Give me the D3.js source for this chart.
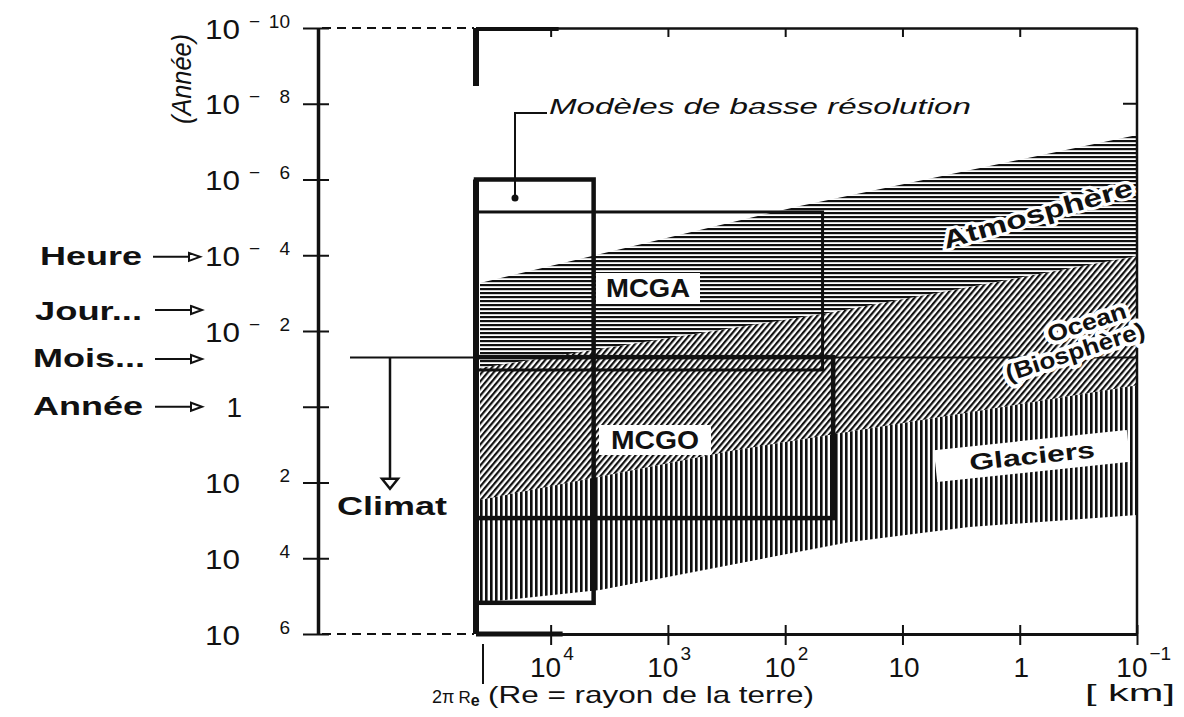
<!DOCTYPE html>
<html>
<head>
<meta charset="utf-8">
<script src="https://cdn.jsdelivr.net/npm/d3@7/dist/d3.min.js"></script>
<style>
  body { margin: 0; background: #fff; }
  text { font-family: "Liberation Sans", Arial, sans-serif; fill: #111; }
</style>
</head>
<body>
<svg id="chart" width="1184" height="717"></svg>
<script>
// values (x in km, y in years)
var earthCircum = 2 * Math.PI * 6371;
var yTickExps = [-10, -8, -6, -4, -2, 0, 2, 4, 6];
var xTickExps = [4, 3, 2, 1, 0, -1];

var timeNames = ["Heure", "Jour...", "Mois...", "Année"];
var timeValues = [1.1e-4, 2.8e-3, 0.055, 1];

var boxNames = ["basse", "MCGA", "MCGO"];
var boxKmTo = [4300, 48, 39];
var boxYrFrom = [1e-6, 7.2e-6, 0.049];
var boxYrTo = [1.5e5, 0.107, 870];

var climatYears = 0.05;
var climatArrowYears = 80;

// boundaries of the hatched bands
var atmTopKm = [earthCircum, 75, 0.1];
var atmTopYr = [5.4e-4, 5.0e-6, 6.7e-8];
var oceTopKm = [earthCircum, 42, 0.1];
var oceTopYr = [0.095, 3.3e-3, 1.05e-4];
var glaTopKm = [earthCircum, 270, 0.1];
var glaTopYr = [290, 14, 0.27];
var glaBotKm = [earthCircum, 3800, 28, 2.7, 0.1];
var glaBotYr = [1.5e5, 6.9e4, 3700, 1500, 720];

var svg = d3.select("#chart");
var pLeft = 480, pRight = 1137, pTop = 28, pBottom = 634, axisX = 318;

var x = d3.scaleLog().domain([earthCircum, 0.1]).range([pLeft, pRight]);
var y = d3.scaleLog().domain([1e-10, 1e6]).range([pTop, pBottom]);

// hatch patterns
var defs = svg.append("defs");
defs.append("pattern").attr("id", "hHatch").attr("patternUnits", "userSpaceOnUse")
    .attr("width", 8).attr("height", 4)
  .append("rect").attr("width", 8).attr("height", 2.2).attr("fill", "#111");
defs.append("pattern").attr("id", "dHatch").attr("patternUnits", "userSpaceOnUse")
    .attr("width", 4.5).attr("height", 10).attr("patternTransform", "rotate(40)")
  .append("rect").attr("width", 2.2).attr("height", 10).attr("fill", "#111");
defs.append("pattern").attr("id", "vHatch").attr("patternUnits", "userSpaceOnUse")
    .attr("width", 5).attr("height", 10)
  .append("rect").attr("width", 2.6).attr("height", 10).attr("fill", "#111");

function pts(km, yr) { return km.map(function(k, i) { return [k, yr[i]]; }); }
var line = d3.line().x(function(d) { return x(d[0]); }).y(function(d) { return y(d[1]); });
function band(tk, ty, bk, by) {
  return line(pts(tk, ty).concat(pts(bk, by).reverse())) + "Z";
}

svg.append("path").attr("d", band(atmTopKm, atmTopYr, oceTopKm, oceTopYr)).attr("fill", "url(#hHatch)");
svg.append("path").attr("d", band(oceTopKm, oceTopYr, glaTopKm, glaTopYr)).attr("fill", "url(#dHatch)");
svg.append("path").attr("d", band(glaTopKm, glaTopYr, glaBotKm, glaBotYr)).attr("fill", "url(#vHatch)");

function wide(sel, len) {
  return sel.attr("textLength", len).attr("lengthAdjust", "spacingAndGlyphs");
}

// climate threshold line
svg.append("line")
    .attr("x1", axisX + 32).attr("x2", pRight)
    .attr("y1", y(climatYears)).attr("y2", y(climatYears))
    .attr("stroke", "#111").attr("stroke-width", 2);
svg.append("line")
    .attr("x1", axisX + 72).attr("x2", axisX + 72)
    .attr("y1", y(climatYears)).attr("y2", y(climatArrowYears))
    .attr("stroke", "#111").attr("stroke-width", 2.5);
svg.append("path")
    .attr("d", "M" + (axisX + 64) + "," + y(climatArrowYears) + "h16l-8,10z")
    .attr("fill", "#fff").attr("stroke", "#111").attr("stroke-width", 2.5);
wide(svg.append("text").attr("x", axisX + 19).attr("y", 515)
    .attr("font-size", 25).attr("font-weight", "bold"), 110).text("Climat");

// model boxes
var boxWidths = [4.5, 3, 4.5];
svg.selectAll(".box").data(boxNames).enter().append("rect")
    .attr("class", "box")
    .attr("x", function(d, i) { return x(earthCircum) - 4; })
    .attr("y", function(d, i) { return y(boxYrFrom[i]); })
    .attr("width", function(d, i) { return x(boxKmTo[i]) - x(earthCircum) + 4; })
    .attr("height", function(d, i) { return y(boxYrTo[i]) - y(boxYrFrom[i]); })
    .attr("fill", "none").attr("stroke", "#111")
    .attr("stroke-width", function(d, i) { return boxWidths[i]; });

// 2 pi Re edge, thick
svg.append("line").attr("x1", pLeft - 4).attr("x2", pLeft - 4)
    .attr("y1", y(boxYrFrom[0])).attr("y2", pBottom)
    .attr("stroke", "#111").attr("stroke-width", 6);
svg.append("line").attr("x1", pLeft - 4).attr("x2", pLeft - 4)
    .attr("y1", pTop).attr("y2", 86)
    .attr("stroke", "#111").attr("stroke-width", 6);
svg.append("line").attr("x1", pLeft - 4).attr("x2", x(1e4) + 8)
    .attr("y1", pTop + 1).attr("y2", pTop + 1)
    .attr("stroke", "#111").attr("stroke-width", 4);
svg.append("line").attr("x1", pLeft - 4).attr("x2", x(1e4) + 12)
    .attr("y1", pBottom).attr("y2", pBottom)
    .attr("stroke", "#111").attr("stroke-width", 5);

// frame
svg.append("line").attr("x1", pRight).attr("x2", pRight).attr("y1", pTop).attr("y2", pBottom)
    .attr("stroke", "#111").attr("stroke-width", 2.5);
svg.append("line").attr("x1", pRight - 14).attr("x2", pRight).attr("y1", y(1e-8)).attr("y2", y(1e-8))
    .attr("stroke", "#111").attr("stroke-width", 2);
[pTop, pBottom].forEach(function(yy) {
  svg.append("line").attr("x1", axisX + 4).attr("x2", pLeft - 6).attr("y1", yy).attr("y2", yy)
      .attr("stroke", "#111").attr("stroke-width", 2).attr("stroke-dasharray", "9,6");
});

// top axis (ticks only)
var topAxis = svg.append("g").attr("transform", "translate(0," + pTop + ")")
    .call(d3.axisTop(x).tickValues(xTickExps.slice(0, 5).map(function(e) { return Math.pow(10, e); }))
      .tickSizeInner(-9).tickSizeOuter(0).tickFormat(""));
topAxis.select(".domain").attr("stroke", "#111").attr("stroke-width", 2.5);
topAxis.selectAll(".tick line").attr("stroke", "#111").attr("stroke-width", 2);

// bottom axis
var botAxis = svg.append("g").attr("transform", "translate(0," + pBottom + ")")
    .call(d3.axisBottom(x).tickValues(xTickExps.map(function(e) { return Math.pow(10, e); }))
      .tickSizeInner(11).tickSizeOuter(0).tickFormat(""));
botAxis.select(".domain").attr("stroke", "#111").attr("stroke-width", 3);
botAxis.selectAll(".tick line").attr("y1", -9).attr("stroke", "#111").attr("stroke-width", 2);
botAxis.selectAll(".tick").each(function(d, i) {
  var g = d3.select(this), e = xTickExps[i];
  if (e === 0 || e === 1) {
    g.append("text").attr("x", 1).attr("y", 677 - pBottom)
        .attr("text-anchor", "middle").attr("font-size", 28)
        .text(e === 0 ? "1" : "10");
  } else {
    g.append("text").attr("x", 10).attr("y", 677 - pBottom)
        .attr("text-anchor", "end").attr("font-size", 28).text("10");
    g.append("text").attr("x", 12).attr("y", 660 - pBottom)
        .attr("text-anchor", "start").attr("font-size", 19).text(e < 0 ? "\u2212" + (-e) : e);
  }
});
botAxis.selectAll(".tick text").attr("fill", "#111");

// 2 pi Re marker
svg.append("line").attr("x1", pLeft + 3).attr("x2", pLeft + 3).attr("y1", pBottom + 10).attr("y2", 684)
    .attr("stroke", "#111").attr("stroke-width", 2);
var re = svg.append("text").attr("x", 432).attr("y", 703).attr("font-size", 24);
re.append("tspan").attr("font-size", 18).text("2\u03c0");
re.append("tspan").attr("font-size", 17).attr("dx", 4).text("R");
re.append("tspan").attr("font-size", 16).attr("font-weight", "bold").attr("dy", 3).text("e");
wide(svg.append("text").attr("x", 488).attr("y", 703).attr("font-size", 24), 326)
    .text("(Re = rayon de la terre)");
wide(svg.append("text").attr("x", 1085).attr("y", 701).attr("font-size", 24), 90).text("[ km]");

// left axis
var yAxis = svg.append("g").attr("transform", "translate(" + axisX + ",0)")
    .call(d3.axisLeft(y).tickValues(yTickExps.map(function(e) { return Math.pow(10, e); }))
      .tickSizeInner(15).tickSizeOuter(0).tickFormat(""));
yAxis.select(".domain").attr("stroke", "#111").attr("stroke-width", 3.5);
yAxis.selectAll(".tick line").attr("x2", -15).attr("x1", 11).attr("stroke", "#111").attr("stroke-width", 2);
yAxis.selectAll(".tick").each(function(d, i) {
  var g = d3.select(this), e = yTickExps[i];
  if (e === 0) {
    g.append("text").attr("x", -76).attr("y", 10).attr("text-anchor", "end")
        .attr("font-size", 28).text("1");
    return;
  }
  wide(g.append("text").attr("x", -113).attr("y", 10).attr("text-anchor", "start")
      .attr("font-size", 28), 35).text("10");
  g.append("text").attr("x", -28).attr("y", -1).attr("text-anchor", "end")
      .attr("font-size", 19).text(Math.abs(e));
  if (e < 0) {
    g.append("text").attr("x", -69).attr("y", -1).attr("text-anchor", "start")
        .attr("font-size", 19).text("\u2212");
  }
});

wide(svg.append("text")
    .attr("transform", "translate(191,79) rotate(-90)")
    .attr("text-anchor", "middle").attr("font-size", 28).attr("font-style", "italic"), 90)
    .text("(Année)");

// time-unit arrows
var tw = [102, 107, 112, 110];
var tx = [40, 35, 33, 33];
timeNames.forEach(function(name, i) {
  var yy = y(timeValues[i]);
  var shift = i === 0 ? 0 : 2;
  wide(svg.append("text").attr("x", tx[i]).attr("y", yy + 8 + (i === 1 ? 2 : 0))
      .attr("font-size", 25).attr("font-weight", "bold"), tw[i]).text(name);
  svg.append("line").attr("x1", 153 + shift).attr("x2", 190 + shift)
      .attr("y1", yy).attr("y2", yy).attr("stroke", "#111").attr("stroke-width", 2);
  svg.append("path")
      .attr("d", "M" + (189 + shift) + "," + (yy - 4) + "l11,4l-11,4z")
      .attr("fill", "#fff").attr("stroke", "#111").attr("stroke-width", 2);
});

// annotation: low resolution models
svg.append("path").attr("d", "M547,113H515V198")
    .attr("fill", "none").attr("stroke", "#111").attr("stroke-width", 2);
svg.append("circle").attr("cx", 515).attr("cy", 198).attr("r", 3.5).attr("fill", "#111");
wide(svg.append("text").attr("x", 549).attr("y", 114).attr("font-size", 22).attr("font-style", "italic"), 422)
    .text("Modèles de basse résolution");

// model labels
function boxLabel(txt, cx, cy, w, h, len) {
  svg.append("rect").attr("x", cx - w / 2).attr("y", cy - h / 2).attr("width", w).attr("height", h).attr("fill", "#fff");
  wide(svg.append("text").attr("x", cx).attr("y", cy + 9).attr("text-anchor", "middle")
      .attr("font-size", 25).attr("font-weight", "bold"), len).text(txt);
}
boxLabel("MCGA", 648, 288, 104, 30, 84);
boxLabel("MCGO", 655, 440, 112, 30, 88);

// band labels
wide(svg.append("text").attr("transform", "translate(1040,222) rotate(-16)")
    .attr("text-anchor", "middle").attr("font-size", 25).attr("font-weight", "bold")
    .attr("stroke", "#fff").attr("stroke-width", 6).attr("stroke-linejoin", "round")
    .attr("paint-order", "stroke"), 196).text("Atmosphère");
var oc = svg.append("g").attr("transform", "translate(1072,342) rotate(-18)");
wide(oc.append("text").attr("x", 20).attr("y", -6).attr("text-anchor", "middle")
    .attr("font-size", 23).attr("font-weight", "bold")
    .attr("stroke", "#fff").attr("stroke-width", 8).attr("stroke-linejoin", "round")
    .attr("paint-order", "stroke"), 82).text("Ocean");
wide(oc.append("text").attr("x", 0).attr("y", 18).attr("text-anchor", "middle")
    .attr("font-size", 23).attr("font-weight", "bold")
    .attr("stroke", "#fff").attr("stroke-width", 8).attr("stroke-linejoin", "round")
    .attr("paint-order", "stroke"), 145).text("(Biosphère)");
var gl = svg.append("g").attr("transform", "translate(1032,456) rotate(-6)");
gl.append("rect").attr("x", -97).attr("y", -16).attr("width", 194).attr("height", 32).attr("fill", "#fff");
wide(gl.append("text").attr("y", 8).attr("text-anchor", "middle")
    .attr("font-size", 23).attr("font-weight", "bold"), 126).text("Glaciers");
</script>
</body>
</html>
